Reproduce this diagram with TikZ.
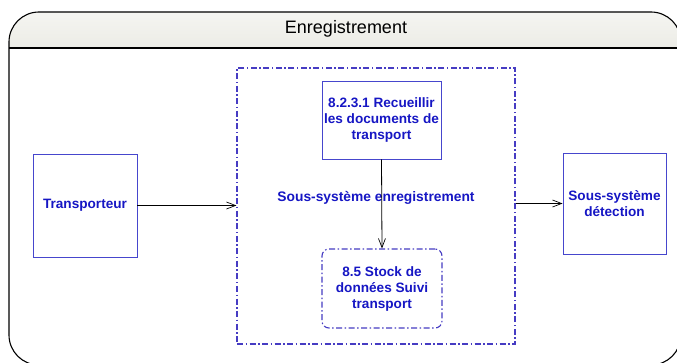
\documentclass[tikz,border=0pt]{standalone}
\usepackage{fontspec}
\setmainfont{Liberation Sans}
\usetikzlibrary{arrows.meta}
\definecolor{txtblue}{RGB}{22,22,196}
\definecolor{boxblue}{RGB}{70,70,205}
\definecolor{dashblue}{RGB}{70,60,195}
\definecolor{headtop}{RGB}{248,248,245}
\definecolor{headbot}{RGB}{236,236,230}
\begin{document}
\begin{tikzpicture}[x=1pt,y=-1pt,
  every node/.style={inner sep=0pt},
  entity/.style={draw=boxblue,line width=0.9pt,fill=white,align=center,
    text=txtblue,font=\fontsize{13.6}{16}\selectfont\bfseries},
  process/.style={entity},
  store/.style={entity,draw=dashblue,line width=1.1pt,rounded corners=7pt,
    dash pattern=on 6pt off 2.5pt on 1.5pt off 2.5pt},
  subsys/.style={draw=dashblue,line width=1.1pt,
    dash pattern=on 6pt off 2.5pt on 1.5pt off 2.5pt},
  flow/.style={draw=black,line width=0.8pt,
    -{Straight Barb[length=9pt,width=7pt,line width=0.7pt]}}]
\useasboundingbox (0,0) rectangle (677,363);
\clip (0,0) rectangle (677,363);

% outer frame with its header band
\fill[white,rounded corners=30pt] (9,12) rectangle (681,365);
\begin{scope}
  \clip[rounded corners=30pt] (9,12) rectangle (681,365);
  \shade[top color=headtop,bottom color=headbot] (0,0) rectangle (690,48);
\end{scope}
\draw[line width=1.1pt,rounded corners=30pt] (9,12) rectangle (681,365);
\draw[line width=1.1pt] (9,48) -- (681,48);
\node (title) at (346,28.5) {\fontsize{18}{20}\selectfont Enregistrement};

% subsystem boundary
\node[subsys,minimum width=278pt,minimum height=276pt] (sub) at (376,206) {};
\node[text=txtblue,font=\fontsize{13.8}{16}\selectfont\bfseries] (sublabel) at (376,198) {Sous-système enregistrement};

% elements
\node[process,minimum width=119pt,minimum height=78pt] (proc) at (381.5,120)
  {8.2.3.1 Recueillir\\les documents de\\transport};
\node[store,minimum width=120pt,minimum height=79pt] (stock) at (382,288.5)
  {8.5 Stock de\\données Suivi\\transport};
\node[entity,minimum width=104pt,minimum height=103pt] (transp) at (85,205.5)
  {Transporteur};
\node[entity,minimum width=103pt,minimum height=101pt] (detect) at (614.5,203.5)
  {Sous-système\\détection};

% flows
\draw[flow] (transp.east) -- (transp.east -| sub.west);
\draw[flow] (detect.west -| sub.east) -- (detect.west);
\draw[flow] (proc.south) -- (stock.north);
\end{tikzpicture}
\end{document}
